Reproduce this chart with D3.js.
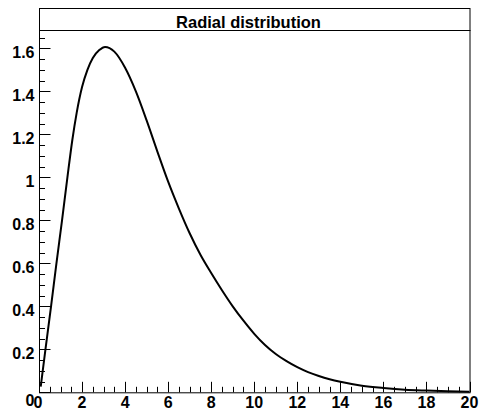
<!DOCTYPE html>
<html><head><meta charset="utf-8">
<script src="https://cdn.jsdelivr.net/npm/d3@7"></script>
<style>body{margin:0;background:#fff}svg{display:block}text{font-family:"Liberation Sans",Arial,sans-serif;font-weight:bold;fill:#000}</style>
</head><body><svg id="c" width="482" height="410"></svg>
<script>
const title = "Radial distribution";
const radius  = [0.08,0.30,0.56,0.81,1.07,1.32,1.55,1.75,2.0,2.25,2.5,2.8,3.07,3.5,4.0,4.5,5.0,5.5,6.0,6.5,7.0,7.5,8.0,8.5,9.0,9.5,10.0,10.5,11.0,11.5,12.0,12.5,13.0,13.5,14.0,15.0,16.0,17.0,18.0,19.0,20.0];
const density = [0.026,0.2,0.4,0.6,0.8,1.0,1.175,1.30,1.42,1.50,1.555,1.592,1.607,1.585,1.51,1.40,1.265,1.12,0.98,0.855,0.74,0.64,0.555,0.475,0.40,0.333,0.272,0.22,0.178,0.145,0.117,0.094,0.076,0.061,0.049,0.031,0.02,0.012,0.008,0.005,0.003];
const xTicks = [0,2,4,6,8,10,12,14,16,18,20];
const yTicks = [0,0.2,0.4,0.6,0.8,1,1.2,1.4,1.6];

const svg = d3.select("#c");
const L=39, R=469.5, T=30, B=392.3;
const x = d3.scaleLinear().domain([0,20]).range([L,R]);
const y = d3.scaleLinear().domain([0,1.6856]).range([B,T]);

// title box
svg.append("rect").attr("x",L+0.5).attr("y",8.5).attr("width",R-L).attr("height",T-8)
  .attr("fill","none").attr("stroke","#000").attr("stroke-width",1);
svg.append("text").attr("x",248.5).attr("y",28.3).attr("text-anchor","middle")
  .attr("font-size","16.5px").text(title);

// frame
svg.append("rect").attr("x",L+0.5).attr("y",T+0.5).attr("width",R-L).attr("height",B-T)
  .attr("fill","none").attr("stroke","#000").attr("stroke-width",1);

// x axis ticks
const xMinor = d3.range(0,20.001,0.5);
svg.append("g").selectAll("line").data(xMinor).join("line")
  .attr("x1",d=>Math.round(x(d))+0.5).attr("x2",d=>Math.round(x(d))+0.5)
  .attr("y1",B).attr("y2",d=>B-(Math.abs(d/2-Math.round(d/2))<1e-6?10.5:5.5))
  .attr("stroke","#000").attr("stroke-width",1);
svg.append("g").selectAll("text").data(xTicks).join("text")
  .attr("x",d=>x(d)+(d===0?-1:0)).attr("y",407.5).attr("text-anchor","middle")
  .attr("font-size","16px").text(d=>d3.format("~g")(d));

// y axis ticks
const yMinor = d3.range(0,1.6856,0.05);
svg.append("g").selectAll("line").data(yMinor).join("line")
  .attr("y1",d=>Math.round(y(d))+0.5).attr("y2",d=>Math.round(y(d))+0.5)
  .attr("x1",L).attr("x2",d=>L+(Math.abs(d/0.2-Math.round(d/0.2))<1e-6?11.5:6))
  .attr("stroke","#000").attr("stroke-width",1);
svg.append("g").selectAll("text").data(yTicks).join("text")
  .attr("x",34.5).attr("y",d=>d===0?406:y(d)+10).attr("text-anchor","end")
  .attr("font-size","16px").text(d=>d3.format("~g")(d));

// curve
const pts = radius.map((r,i)=>[r,density[i]]);
svg.append("path").datum(pts)
  .attr("d",d3.line().x(d=>x(d[0])).y(d=>y(d[1])).curve(d3.curveMonotoneX))
  .attr("fill","none").attr("stroke","#000").attr("stroke-width",2);
</script></body></html>
